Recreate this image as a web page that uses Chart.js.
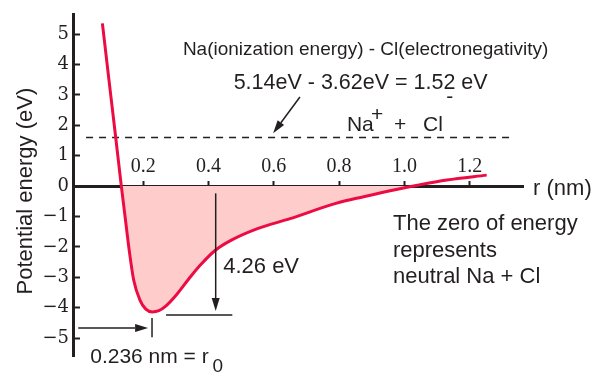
<!DOCTYPE html>
<html><head><meta charset="utf-8">
<script src="https://cdn.jsdelivr.net/npm/chart.js@4/dist/chart.umd.min.js"></script>
<style>html,body{margin:0;padding:0;background:#fff}canvas{display:block}</style>
</head><body>
<canvas id="c" width="600" height="382"></canvas>
<script>
// ---- data ----
const separationNm = [0.075, 0.095, 0.116, 0.133, 0.145, 0.157, 0.171, 0.19, 0.208, 0.228, 0.248, 0.268, 0.30, 0.34, 0.375, 0.42, 0.47, 0.55, 0.65, 0.79, 0.875, 0.975, 1.04, 1.13, 1.252];
const energyEv    = [5.35, 3.5, 1.58, 0.0, -1.05, -2.1, -3.1, -3.75, -4.05, -4.14, -4.1, -3.96, -3.6, -3.05, -2.6, -2.12, -1.78, -1.4, -1.07, -0.57, -0.35, -0.11, 0.03, 0.2, 0.36];
const ionLevelR = [0.025, 1.33];
const ionLevelE = [1.6, 1.6];
const xTickValues = [0.2, 0.4, 0.6, 0.8, 1.0, 1.2];
const xTickLabels = ['0.2', '0.4', '0.6', '0.8', '1.0', '1.2'];
const yTickValues = [-5, -4, -3, -2, -1, 0, 1, 2, 3, 4, 5];
const yTickLabels = ['\u22125', '\u22124', '\u22123', '\u22122', '\u22121', '0', '1', '2', '3', '4', '5'];

// ---- styles ----
const INK = '#231f20';
const RED = '#ec0b43';
const PINK = '#ffcccc';
const SANS = "'Liberation Sans', Arial, sans-serif";
const SERIF = "'Liberation Serif', 'Times New Roman', serif";
const WIDE_SERIF = "'DejaVu Serif', serif";

// ---- annotations (data units) ----
const noteArrows = [
  {from: [0.680, 2.93], to: [0.598, 1.74]},
  {from: [0.422, -0.24], to: [0.422, -4.11]},
  {from: [0.001, -4.67], to: [0.215, -4.67]}
];
const noteLines = [
  {from: [0.270, -4.24], to: [0.473, -4.24]},
  {from: [0.227, -4.34], to: [0.227, -4.97]}
];
const noteTexts = [
  {t: 'Na(ionization energy) - Cl(electronegativity)', at: [0.881, 4.31], size: 19, align: 'center'},
  {t: '5.14eV - 3.62eV = 1.52 eV', at: [0.866, 3.18], size: 21.5, align: 'center'},
  {t: 'Na', at: [0.824, 1.82], size: 21},
  {t: '+', at: [0.898, 2.14], size: 21},
  {t: '+', at: [0.968, 1.81], size: 21},
  {t: 'Cl', at: [1.057, 1.82], size: 21},
  {t: '-', at: [1.128, 2.73], size: 21},
  {t: 'r (nm)', at: [1.394, -0.30], size: 22},
  {t: 'The zero of energy', at: [0.965, -1.447], size: 22},
  {t: 'represents', at: [0.965, -2.326], size: 22},
  {t: 'neutral Na + Cl', at: [0.965, -3.19], size: 22},
  {t: '4.26 eV', at: [0.445, -2.87], size: 22},
  {t: '0.236 nm = r', at: [0.0377, -5.83], size: 21},
  {t: '0', at: [0.412, -6.11], size: 19}
];

const notesPlugin = {
  id: 'notes',
  afterDraw(chart) {
    const {ctx} = chart;
    const xs = chart.scales.x, ys = chart.scales.y;
    const P = p => [xs.getPixelForValue(p[0]), ys.getPixelForValue(p[1])];
    ctx.save();
    ctx.strokeStyle = INK; ctx.fillStyle = INK; ctx.lineWidth = 1.5; ctx.lineCap = 'butt';
    for (const l of noteLines) {
      const a = P(l.from), b = P(l.to);
      ctx.beginPath(); ctx.moveTo(a[0], a[1]); ctx.lineTo(b[0], b[1]); ctx.stroke();
    }
    for (const ar of noteArrows) {
      const a = P(ar.from), b = P(ar.to);
      const ang = Math.atan2(b[1] - a[1], b[0] - a[0]);
      const len = 13, half = 4;
      const bx = b[0] - len * Math.cos(ang), by = b[1] - len * Math.sin(ang);
      ctx.beginPath(); ctx.moveTo(a[0], a[1]); ctx.lineTo(bx, by); ctx.stroke();
      ctx.beginPath();
      ctx.moveTo(b[0], b[1]);
      ctx.lineTo(bx + half * Math.sin(ang), by - half * Math.cos(ang));
      ctx.lineTo(bx - half * Math.sin(ang), by + half * Math.cos(ang));
      ctx.closePath(); ctx.fill();
    }
    ctx.textBaseline = 'alphabetic';
    for (const n of noteTexts) {
      const p = P(n.at);
      ctx.font = n.size + 'px ' + SANS;
      ctx.textAlign = n.align || 'left';
      ctx.fillText(n.t, p[0], p[1]);
    }
    ctx.restore();
  }
};

new Chart(document.getElementById('c'), {
  type: 'scatter',
  data: {
    datasets: [
      {
        data: separationNm.map((r, i) => ({x: r, y: energyEv[i]})),
        showLine: true,
        borderColor: RED,
        borderWidth: 3,
        pointRadius: 0,
        cubicInterpolationMode: 'monotone',
        fill: {target: 'origin', above: 'rgba(0,0,0,0)', below: PINK}
      },
      {
        data: ionLevelR.map((r, i) => ({x: r, y: ionLevelE[i]})),
        showLine: true,
        borderColor: INK,
        borderWidth: 1.5,
        borderDash: [7, 6],
        pointRadius: 0,
        fill: false
      }
    ]
  },
  options: {
    responsive: false,
    animation: false,
    devicePixelRatio: 1,
    events: [],
    layout: {padding: {left: 0, top: 14, right: 76.4, bottom: 26}},
    plugins: {legend: {display: false}, tooltip: {enabled: false}},
    scales: {
      x: {
        type: 'linear',
        position: {y: 0},
        min: -0.015, max: 1.365,
        z: 1,
        afterBuildTicks: s => { s.ticks = xTickValues.map(v => ({value: v})); },
        afterFit: s => { s.paddingLeft = 0; s.paddingRight = 0; s.paddingTop = 0; s.paddingBottom = 0; },
        grid: {display: true, drawOnChartArea: false, drawTicks: true, tickLength: -7, tickWidth: 2, tickColor: INK},
        border: {display: true, color: INK, width: 3},
        ticks: {
          padding: -24.5,
          maxRotation: 0, autoSkip: false,
          color: INK,
          font: {family: SERIF, size: 20},
          callback: (v) => { const i = xTickValues.findIndex(t => Math.abs(t - v) < 1e-9); return i >= 0 ? xTickLabels[i] : ''; }
        }
      },
      y: {
        type: 'linear',
        position: 'left',
        min: -5.59, max: 5.66,
        afterFit: s => { s.width = 73; s.paddingTop = 0; s.paddingBottom = 0; s.paddingLeft = 0; s.paddingRight = 0; },
        afterBuildTicks: s => { s.ticks = yTickValues.map(v => ({value: v})); },
        grid: {display: true, drawOnChartArea: false, drawTicks: true, tickLength: -7, tickWidth: 2, tickColor: INK},
        border: {display: true, color: INK, width: 3},
        ticks: {
          padding: 11,
          autoSkip: false,
          color: INK,
          font: {family: WIDE_SERIF, size: 18},
          callback: (v) => { const i = yTickValues.indexOf(Math.round(v)); return i >= 0 ? yTickLabels[i] : ''; }
        },
        title: {display: true, text: 'Potential energy (eV)  ', color: INK, font: {family: SANS, size: 22}, padding: {top: 13, bottom: 0}}
      }
    }
  },
  plugins: [notesPlugin]
});
</script>
</body></html>
